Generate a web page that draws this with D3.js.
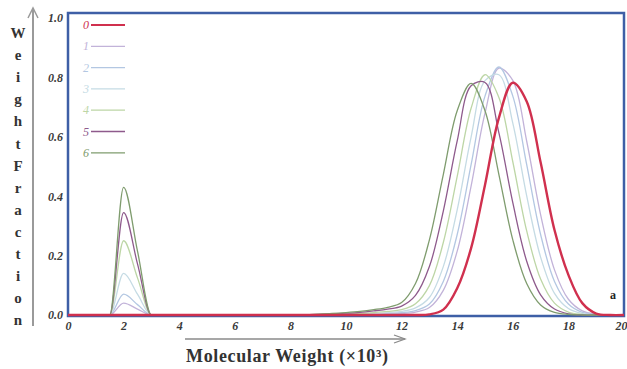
<!DOCTYPE html>
<html><head><meta charset="utf-8">
<script src="https://cdn.jsdelivr.net/npm/d3@7"></script>
<style>body{margin:0;background:#fff}svg{display:block}</style>
</head><body>
<script>
const seriesNames = ["0","1","2","3","4","5","6"];
const seriesColors = ["#d0304e","#c2b3d9","#b3c7e2","#c5dbe4","#bdd6a6","#8e5a8c","#7f9c6e"];
const xs = [0,1,1.5,2,2.5,3,4,5,6,7,8,9,9.5,10,10.5,11,11.5,12,12.5,13,13.5,14,14.5,15,15.5,16,16.5,17,17.5,18,18.5,19,19.5,20];
const y0 = [0,0,0,0,0,0,0,0,0,0,0,0,0,0,0,0,0,0,0,0.002,0.018,0.09,0.225,0.438,0.664,0.782,0.719,0.514,0.286,0.135,0.04,0.005,0,0];
const y1 = [0,0,0,0.04,0.02,0,0,0,0,0,0,0,0,0,0,0.002,0.003,0.005,0.01,0.025,0.083,0.215,0.434,0.68,0.831,0.79,0.585,0.338,0.152,0.053,0.014,0.003,0,0];
const y2 = [0,0,0,0.07,0.035,0,0,0,0,0,0,0,0,0,0,0.003,0.005,0.008,0.015,0.037,0.113,0.271,0.506,0.737,0.835,0.737,0.506,0.271,0.113,0.037,0.009,0.002,0,0];
const y3 = [0,0,0,0.14,0.07,0,0,0,0,0,0,0,0,0.002,0.003,0.005,0.008,0.012,0.024,0.059,0.163,0.354,0.599,0.789,0.809,0.646,0.401,0.195,0.073,0.022,0.005,0,0,0];
const y4 = [0,0,0,0.25,0.125,0,0,0,0,0,0,0,0,0.003,0.005,0.008,0.012,0.018,0.038,0.099,0.244,0.467,0.696,0.809,0.732,0.516,0.283,0.121,0.04,0.01,0.002,0,0,0];
const y5 = [0,0,0,0.345,0.172,0,0,0,0,0,0,0.002,0.004,0.006,0.009,0.014,0.02,0.03,0.066,0.163,0.35,0.586,0.772,0.783,0.613,0.378,0.181,0.068,0.02,0.004,0,0,0,0];
const y6 = [0,0,0,0.43,0.215,0,0,0,0,0,0,0.003,0.005,0.008,0.012,0.018,0.026,0.042,0.106,0.253,0.473,0.688,0.78,0.688,0.473,0.253,0.106,0.034,0.009,0.002,0,0,0,0];
const seriesValues = [y0,y1,y2,y3,y4,y5,y6];
const xTicks = [0,2,4,6,8,10,12,14,16,18,20];
const yTicks = [0,0.2,0.4,0.6,0.8,1.0];
const yTitle = "Weight Fraction";
const xTitle = "Molecular Weight (×10³)";

const W = 627, H = 369;
const svg = d3.select("body").append("svg").attr("width", W).attr("height", H);
const x = d3.scaleLinear().domain([0,20]).range([68,624]);
const y = d3.scaleLinear().domain([0,1]).range([315,18]);
const serif = "'Liberation Serif','DejaVu Serif',serif";

// plot frame
svg.append("rect").attr("x",68).attr("y",13).attr("width",556).attr("height",303)
  .attr("fill","none").attr("stroke","#3e5fa6").attr("stroke-width",2.5);

// curves: low-mass part with monotone interpolation, main peak with Catmull-Rom
const split = xs.indexOf(9);
const lineLeft = d3.line().x(d=>x(d[0])).y(d=>y(d[1])).curve(d3.curveMonotoneX);
const lineRight = d3.line().x(d=>x(d[0])).y(d=>y(d[1])).curve(d3.curveCatmullRom.alpha(0.5));
const order = [1,2,3,4,5,6,0];
order.forEach(k=>{
  const pts = xs.map((v,i)=>[v, seriesValues[k][i]]);
  const sw = k===0?2.4:1.3;
  svg.append("path").attr("d", lineLeft(pts.slice(0, split+1)) + lineRight(pts.slice(split)).replace(/^M/,"L"))
    .attr("fill","none").attr("stroke",seriesColors[k]).attr("stroke-width",sw).attr("stroke-linejoin","round");
});

// legend
seriesNames.forEach((n,i)=>{
  const ly = 25 + i*21.3;
  svg.append("text").attr("x",86).attr("y",ly+4).attr("text-anchor","middle")
    .attr("font-family",serif).attr("font-style","italic").attr("font-size",12)
    .attr("fill",seriesColors[i]).text(n);
  svg.append("line").attr("x1",91).attr("x2",125).attr("y1",ly).attr("y2",ly)
    .attr("stroke",seriesColors[i]).attr("stroke-width",i===0?2:1.3);
});

// y axis arrow
svg.append("line").attr("x1",33).attr("x2",33).attr("y1",326).attr("y2",9).attr("stroke","#9a9a9a").attr("stroke-width",2);
svg.append("path").attr("d","M28,18 L33,8 L38,18").attr("fill","none").attr("stroke","#9a9a9a").attr("stroke-width",1.5);

// y tick labels via axis
const yAxis = d3.axisLeft(y).tickValues(yTicks).tickFormat(d3.format(".1f")).tickSize(0).tickPadding(0);
const gy = svg.append("g").attr("transform","translate(63,0)").call(yAxis);
gy.select(".domain").remove();
gy.selectAll("text").attr("font-family",serif).attr("font-style","italic").attr("font-weight","bold")
  .attr("font-size",12).attr("fill","#3a3a3a");

// x tick labels via axis
const xAxis = d3.axisBottom(x).tickValues(xTicks).tickFormat(d3.format("d")).tickSize(0).tickPadding(0);
const gx = svg.append("g").attr("transform","translate(0,321)").call(xAxis);
gx.select(".domain").remove();
gx.selectAll("text").attr("font-family",serif).attr("font-style","italic").attr("font-weight","bold")
  .attr("font-size",12).attr("fill","#3a3a3a");
gx.selectAll(".tick").filter(d=>d===20).select("text").attr("text-anchor","end").attr("x",3);

// y title stacked letters
const letters = yTitle.replace(" ","").split("");
letters.forEach((c,i)=>{
  svg.append("text").attr("x",18).attr("y",38+i*22.1).attr("text-anchor","middle")
    .attr("font-family",serif).attr("font-weight","bold").attr("font-size",15).attr("fill","#333").text(c);
});

// x axis arrow
svg.append("line").attr("x1",185).attr("x2",405).attr("y1",339).attr("y2",339).attr("stroke","#8a8a8a").attr("stroke-width",1.5);
svg.append("path").attr("d","M394,335 L405,339 L394,343").attr("fill","none").attr("stroke","#8a8a8a").attr("stroke-width",1.3);

// x title
svg.append("text").attr("x",186).attr("y",362).attr("font-family",serif).attr("font-weight","bold")
  .attr("font-size",18).attr("textLength",202).attr("lengthAdjust","spacing").attr("fill","#333").text(xTitle);

// panel letter
svg.append("text").attr("x",613).attr("y",299).attr("text-anchor","middle").attr("font-family",serif)
  .attr("font-weight","bold").attr("font-size",12).attr("fill","#222").text("a");
</script>
</body></html>
